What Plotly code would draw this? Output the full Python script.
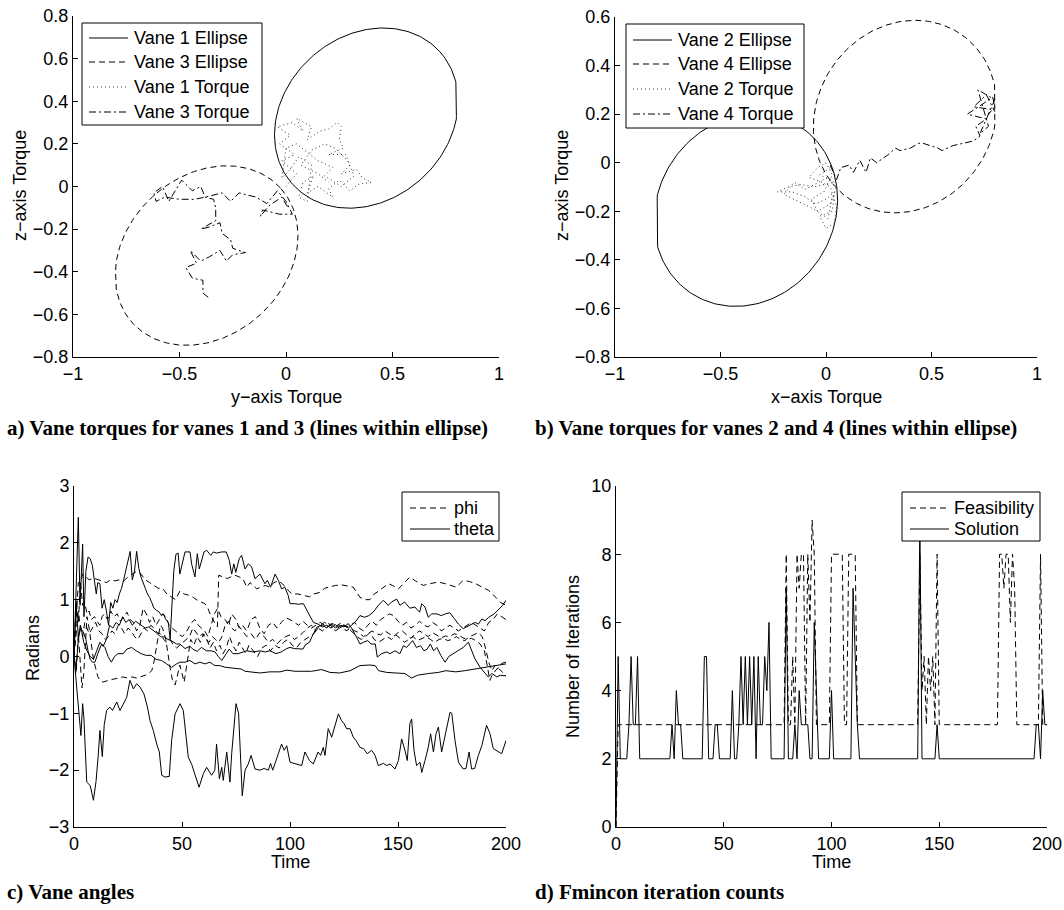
import numpy as np
import plotly.graph_objects as go

# ---------------------------------------------------------------- data
# Torque ellipses: centre (horizontal, z), semi-axes, tilt in degrees
ELLIPSE_V1 = dict(cx=0.377, cy=0.321, a=0.465, b=0.385, tilt=42.0)
ELLIPSE_V3 = dict(cx=-0.373, cy=-0.324, a=0.470, b=0.375, tilt=42.5)
ELLIPSE_V2 = dict(cx=-0.380, cy=-0.195, a=0.445, b=0.385, tilt=25.0)
ELLIPSE_V4 = dict(cx=0.375, cy=0.190, a=0.445, b=0.385, tilt=25.0)
TORQUE_LIMIT = 0.8

# Vane torque histories (horizontal torque, z torque)
v1_torque = [(0.0, 0.0), (0.05, 0.06), (-0.02, 0.12), (0.04, 0.15), (-0.03, 0.2), (0.02, 0.24),
             (-0.04, 0.28), (0.03, 0.3), (0.08, 0.26), (0.05, 0.32), (0.12, 0.28), (0.1, 0.22),
             (0.16, 0.26), (0.2, 0.27), (0.24, 0.3), (0.26, 0.28), (0.25, 0.22), (0.27, 0.18),
             (0.2, 0.15), (0.28, 0.15), (0.3, 0.1), (0.26, 0.06), (0.33, 0.08), (0.36, 0.04),
             (0.4, 0.02), (0.34, 0.01), (0.3, -0.02), (0.25, 0.03), (0.2, -0.01), (0.22, -0.05),
             (0.15, 0.0), (0.1, -0.03), (0.13, 0.05), (0.08, 0.02), (0.06, -0.05), (0.1, -0.07),
             (0.12, 0.1), (0.06, 0.14), (0.02, 0.08), (-0.02, 0.04), (0.0, 0.18), (0.05, 0.2),
             (0.15, 0.12), (0.22, 0.09), (0.18, 0.05), (0.26, 0.0), (0.32, 0.05), (0.29, 0.12),
             (0.23, 0.18), (0.18, 0.2), (0.12, 0.17), (0.07, 0.1), (0.15, 0.06), (0.2, 0.02)]
v3_torque = [(-0.365, -0.52), (-0.39, -0.5), (-0.39, -0.44), (-0.44, -0.43), (-0.47, -0.38),
             (-0.42, -0.36), (-0.45, -0.3), (-0.4, -0.35), (-0.36, -0.33), (-0.31, -0.3),
             (-0.28, -0.35), (-0.25, -0.32), (-0.19, -0.31), (-0.25, -0.29), (-0.26, -0.25),
             (-0.3, -0.22), (-0.31, -0.17), (-0.36, -0.19), (-0.4, -0.2), (-0.33, -0.16),
             (-0.33, -0.1), (-0.34, -0.06), (-0.38, -0.05), (-0.4, 0.0), (-0.44, -0.02),
             (-0.49, 0.03), (-0.55, -0.07), (-0.58, 0.0), (-0.62, -0.03), (-0.61, -0.07),
             (-0.57, -0.05), (-0.5, -0.06), (-0.43, -0.06), (-0.38, -0.05), (-0.3, -0.03),
             (-0.26, -0.07), (-0.22, -0.03), (-0.14, -0.05), (-0.09, -0.08), (-0.04, -0.02),
             (0.0, -0.07), (0.03, -0.13), (-0.03, -0.13), (-0.11, -0.11), (-0.12, -0.14),
             (-0.08, -0.09), (-0.02, -0.05), (0.01, -0.1)]
v2_torque = [(0.02, -0.02), (-0.03, -0.05), (0.04, -0.08), (-0.06, -0.1), (-0.12, -0.09),
             (-0.18, -0.1), (-0.23, -0.12), (-0.16, -0.12), (-0.1, -0.14), (-0.05, -0.17),
             (0.0, -0.15), (0.04, -0.12), (0.03, -0.2), (-0.03, -0.22), (0.0, -0.27),
             (0.04, -0.25), (0.05, -0.18), (0.02, -0.1), (-0.02, -0.08), (-0.08, -0.06),
             (-0.04, -0.02), (0.0, 0.0), (0.03, -0.05), (-0.01, -0.12), (-0.07, -0.15),
             (-0.04, -0.2), (0.02, -0.17), (0.05, -0.1), (0.01, -0.06), (-0.1, -0.11),
             (-0.15, -0.08), (-0.2, -0.13), (-0.13, -0.16), (-0.06, -0.19), (0.01, -0.23),
             (0.03, -0.14)]
v4_torque = [(0.02, -0.01), (0.05, -0.07), (0.07, -0.02), (0.11, -0.01), (0.13, -0.04),
             (0.16, 0.01), (0.19, -0.04), (0.21, 0.02), (0.24, 0.0), (0.29, 0.03), (0.33, 0.06),
             (0.35, 0.05), (0.4, 0.06), (0.44, 0.08), (0.46, 0.08), (0.5, 0.07), (0.53, 0.06),
             (0.55, 0.05), (0.6, 0.07), (0.65, 0.08), (0.7, 0.09), (0.73, 0.11), (0.71, 0.15),
             (0.76, 0.18), (0.67, 0.2), (0.74, 0.24), (0.79, 0.27), (0.8, 0.23), (0.77, 0.2),
             (0.8, 0.26), (0.72, 0.3), (0.77, 0.15), (0.73, 0.12), (0.78, 0.22), (0.7, 0.23),
             (0.76, 0.28), (0.8, 0.21)]

# Vane angles (time, radians)
theta_1 = [(0, 0), (1.2, -0.54), (2.5, -1.0), (3.2, -1.39), (4, -0.83), (4.6, -1.1), (5.9, -2.21),
           (7.5, -2.27), (9, -2.53), (10.2, -2.2), (11.2, -1.75), (12, -1.3), (13.1, -1.76),
           (14, -1.2), (15.1, -0.95), (16.6, -0.89), (17.8, -0.95), (19.8, -0.8), (21.3, -0.95),
           (22.8, -0.85), (24.4, -0.72), (25.9, -0.42), (27.5, -0.57), (29, -0.48), (30.6, -0.54),
           (32.4, -0.66), (34, -0.89), (35.2, -1.13), (36.7, -1.3), (38.3, -1.54), (39.5, -1.68),
           (40.6, -2.09), (42.1, -2.12), (44.1, -2.11), (45.2, -1.48), (46.8, -1.01), (49.1, -0.83),
           (50.6, -0.95), (51.3, -1.24), (52.9, -1.77), (54.5, -1.9), (55.9, -2.05), (57.9, -2.3),
           (59.9, -2.06), (61.4, -1.95), (63.7, -2.09), (65.2, -2.0), (66, -1.54), (67.3, -2.15),
           (68.4, -1.95), (69.1, -2.18), (70.7, -1.68), (72.2, -2.21), (73, -1.71), (75, -0.83),
           (76.2, -1.0), (77.9, -2.45), (79.2, -2.0), (80.7, -1.89), (82, -1.74), (83.8, -1.98),
           (86.1, -2.0), (88, -1.97), (90, -2.0), (91, -1.88), (92, -2.0), (94.6, -1.71),
           (96.1, -1.54), (97.3, -1.65), (98.5, -1.57), (100, -1.86), (103, -1.9), (105.4, -1.92),
           (106.9, -1.68), (109, -1.83), (110.8, -1.89), (113, -1.68), (114.2, -1.74), (115.4, -1.6),
           (116.2, -1.74), (117.7, -1.27), (119.3, -1.42), (120.8, -1.21), (122.4, -1.01),
           (123.9, -1.13), (125, -1.18), (126.2, -1.27), (127.8, -1.27), (129.3, -1.42),
           (130.6, -1.48), (132.4, -1.6), (134, -1.62), (135.8, -1.71), (137.8, -1.65),
           (139.4, -1.74), (140.9, -1.92), (143.2, -1.88), (144.8, -1.92), (146.3, -1.89),
           (148.6, -1.98), (150.2, -1.83), (151.7, -1.45), (153.2, -1.65), (154.3, -1.83),
           (155.5, -1.18), (156.3, -1.1), (157.4, -1.65), (158.6, -1.92), (160.2, -1.86),
           (161, -2.04), (162.5, -1.83), (164, -1.6), (165.1, -1.36), (166.4, -1.68),
           (167.6, -1.36), (168.7, -1.24), (170.2, -1.68), (172.5, -1.24), (174.1, -0.98),
           (174.9, -1.0), (176.4, -1.48), (178, -1.86), (180.2, -1.98), (181.5, -1.97),
           (182.9, -1.68), (184.1, -1.98), (185.5, -1.97), (187.2, -1.74), (188.8, -1.57),
           (191, -1.21), (192.6, -1.36), (194.1, -1.62), (196.5, -1.68), (198, -1.71), (200, -1.48)]
theta_2 = [(0, 0.0), (1, 1.2), (2, 2.45), (2.8, 0.9), (3.5, 1.4), (4, 1.98), (4.6, 0.7), (5.5, 1.5),
           (6.5, 1.75), (7.5, 1.72), (8.5, 1.6), (9.5, 1.3), (10.3, 1.1), (11, 1.3), (12, 1.28),
           (13, 0.85), (14, 1.0), (15, 0.8), (16, 0.55), (17, 0.95), (18, 0.85), (19, 1.0),
           (20, 0.95), (21, 1.1), (22, 1.2), (23, 1.35), (24, 1.5), (25, 1.7), (26, 1.85),
           (27, 1.35), (28, 1.5), (29, 1.85), (30, 1.55), (31, 1.4), (32, 1.28), (33, 1.2),
           (34, 1.1), (35, 1.04), (36, 0.95), (37, 0.85), (38.3, 0.81), (39.5, 0.78), (40.5, 0.72),
           (41.4, 0.75), (42.5, 0.65), (43.7, 0.6), (44.5, 0.3), (45.3, 0.9), (46.2, 1.5),
           (47.2, 1.8), (48.2, 1.82), (49, 1.45), (50, 1.6), (51.4, 1.84), (53.7, 1.84),
           (54.5, 1.62), (56, 1.4), (57.1, 1.81), (58, 1.54), (59, 1.66), (60.2, 1.84),
           (61.4, 1.87), (63.3, 1.78), (64.5, 1.84), (66, 1.82), (68.4, 1.84), (70.5, 1.84),
           (71.9, 1.69), (73, 1.45), (74, 1.63), (74.9, 1.48), (76.5, 1.72), (77.6, 1.78),
           (79.2, 1.54), (80.7, 1.63), (82.2, 1.58), (83.8, 1.37), (86.1, 1.45), (88.4, 1.28),
           (89.5, 1.34), (91, 1.22), (93.1, 1.45), (94.6, 1.34), (96.1, 1.19), (97.6, 1.22),
           (99.2, 1.07), (100, 0.93), (102, 0.93), (104, 0.92), (106.2, 0.93), (107.4, 0.84),
           (109.3, 0.72), (110.8, 0.6), (113, 0.57), (115, 0.52), (117, 0.55), (119, 0.5),
           (121, 0.56), (123, 0.5), (125, 0.55), (127, 0.5), (128.5, 0.55), (130.5, 0.62),
           (132.4, 0.72), (134.5, 0.69), (136.5, 0.72), (138.5, 0.78), (140.9, 0.9), (143.2, 0.99),
           (145.5, 0.9), (147, 0.96), (149.4, 1.01), (150.9, 0.9), (153, 0.96), (155.5, 0.85),
           (157.8, 0.87), (160, 0.78), (161, 0.93), (162.5, 0.87), (164, 0.69), (165.6, 0.75),
           (168, 0.75), (170, 0.72), (172, 0.75), (174, 0.77), (176, 0.67), (178, 0.57),
           (180.2, 0.49), (182.5, 0.54), (184, 0.57), (185.7, 0.6), (187.2, 0.57), (188.8, 0.66),
           (190.3, 0.63), (192, 0.69), (194.5, 0.75), (196.8, 0.84), (198.5, 0.9), (200, 0.99)]
theta_3 = [(0, 0), (1, 0.9), (2, 0.35), (3, 0.55), (4.5, 0.25), (6, 0.1), (7.5, 0.0), (9, -0.05),
           (10.5, 0.1), (12, 0.25), (13.5, 0.18), (15, 0.3), (16.5, 0.55), (18, 0.5), (19.5, 0.6),
           (21, 0.55), (22.5, 0.7), (24, 0.6), (25.5, 0.65), (27, 0.55), (28.5, 0.62), (30, 0.58),
           (31.5, 0.55), (33, 0.5), (34.5, 0.52), (36, 0.48), (38, 0.42), (40, 0.35), (42, 0.34),
           (43.5, 0.3), (45, 0.28), (47.5, 0.22), (49, 0.22), (51.4, 0.14), (53.7, 0.18),
           (55, 0.13), (57, 0.09), (59, 0.16), (61.3, 0.1), (63.5, 0.1), (65.3, 0.08), (66.8, 0.0),
           (68.4, -0.07), (70.5, 0.05), (71.9, 0.13), (73.6, 0.05), (76, 0.05), (78.4, 0.08),
           (80, 0.1), (83, 0.08), (86, 0.1), (88.5, 0.08), (90.7, 0.1), (93.5, 0.05), (96, 0.08),
           (98.5, 0.14), (100, 0.16), (102, 0.14), (104, 0.14), (106, 0.13), (107, 0.2),
           (109, 0.25), (110.8, 0.4), (112.5, 0.52), (115, 0.55), (117, 0.5), (119, 0.58),
           (121, 0.5), (123, 0.55), (125, 0.52), (127, 0.58), (128.5, 0.5), (130.8, 0.34),
           (132.4, 0.22), (134, 0.25), (136, 0.28), (137.5, 0.22), (139.5, 0.22), (140.4, -0.01),
           (142.4, 0.05), (144.8, 0.08), (146.3, 0.05), (148.6, 0.1), (150.9, 0.05), (152.5, 0.19),
           (154, 0.16), (156.8, 0.28), (158.5, 0.16), (160.5, 0.19), (162, 0.1), (163.5, 0.13),
           (165, 0.22), (166.5, 0.1), (168, 0.16), (169.8, 0.02), (171.8, -0.1), (173.5, -0.0),
           (175.8, 0.05), (178, 0.1), (180.2, 0.16), (182.6, 0.25), (184, 0.1), (185.6, -0.04),
           (188, -0.19), (190.3, -0.3), (191.8, -0.36), (193.5, -0.3), (195.8, -0.36),
           (197.3, -0.33), (200, -0.34)]
theta_4 = [(0, 0), (1, -0.2), (2, 0.3), (3, 0.5), (4.3, 0.43), (5.5, 0.3), (6.5, 0.1), (7.5, -0.05),
           (8.5, -0.1), (9.7, -0.1), (11, 0.05), (12.8, 0.22), (14.3, 0.16), (15.8, 0.0),
           (17.3, -0.1), (18.8, 0.0), (20.3, 0.05), (22.8, 0.05), (24.5, 0.13), (26.7, 0.16),
           (28.8, 0.1), (31.1, 0.05), (33.4, 0.02), (35.7, 0.02), (38, -0.05), (40.5, -0.07),
           (42.9, -0.13), (45.2, -0.19), (47.5, -0.13), (49, -0.1), (51.4, -0.1), (53.7, -0.07),
           (56, -0.13), (58.3, -0.1), (60.6, -0.13), (62.9, -0.1), (65.2, -0.16), (67.5, -0.16),
           (70, -0.19), (73.6, -0.2), (77.4, -0.22), (79.2, -0.26), (81.5, -0.27), (86, -0.29),
           (90.7, -0.27), (95.4, -0.27), (98.5, -0.24), (102.3, -0.26), (106, -0.26), (110, -0.26),
           (114.6, -0.23), (118.5, -0.28), (123, -0.29), (127.8, -0.25), (132.4, -0.16),
           (137, -0.15), (139.4, -0.16), (141, -0.25), (144.8, -0.28), (149.4, -0.29),
           (153.2, -0.3), (156.3, -0.38), (159, -0.33), (164, -0.3), (168.7, -0.28),
           (172.2, -0.25), (176.8, -0.27), (180.9, -0.25), (185.5, -0.22), (190.3, -0.2),
           (193.6, -0.17), (197, -0.15), (200, -0.13)]

phi_1 = [(0, 0), (1, 0.7), (2, 1.3), (3, 1.3), (4, 1.45), (5.5, 1.4), (7, 1.35), (9, 1.38), (11, 1.35),
         (13, 1.33), (15, 1.3), (17, 1.35), (19, 1.33), (21, 1.35), (23, 1.33), (25, 1.4), (27, 1.45),
         (29, 1.5), (31, 1.45), (33, 1.35), (35, 1.3), (37, 1.25), (39, 1.2), (41, 1.2), (43, 1.1),
         (45, 1.05), (47, 1.0), (49, 1.15), (51, 1.1), (53, 1.08), (55.2, 1.04), (57.5, 0.98),
         (60.6, 0.93), (62, 0.85), (63, 0.75), (65, 0.6), (66.4, 0.52), (67, 1.43), (69, 1.4),
         (71, 1.37), (72.5, 1.4), (74.5, 1.43), (76.5, 1.4), (78.2, 1.37), (80, 1.22), (81.5, 1.3),
         (83, 1.25), (84.6, 1.19), (86.5, 1.22), (88.5, 1.25), (90.7, 1.22), (92.5, 1.3),
         (94.6, 1.33), (96.5, 1.28), (98.5, 1.19), (100.8, 1.1), (103.7, 1.1), (106, 1.08),
         (109, 1.05), (111, 1.1), (114, 1.13), (116, 1.2), (118.5, 1.22), (121, 1.25), (124, 1.26),
         (127, 1.24), (129.3, 1.22), (132.4, 1.04), (135, 1.0), (137, 1.0), (139, 1.1), (141, 1.15),
         (143.2, 1.22), (145.5, 1.28), (147.5, 1.25), (150.2, 1.19), (153.2, 1.31), (155.6, 1.4),
         (158, 1.33), (161.7, 1.25), (164.5, 1.28), (168.7, 1.31), (172, 1.28), (174.5, 1.25),
         (177, 1.22), (180.2, 1.34), (183, 1.32), (186, 1.28), (189, 1.22), (192, 1.16),
         (195.3, 1.04), (197.5, 0.95), (200, 0.9)]
phi_2 = [(0, 0), (1, 1.0), (2, 0.6), (3, 1.3), (4, 0.9), (5, 0.95), (6, 0.75), (7, 0.8), (8, 0.65),
         (9.5, 0.7), (11, 0.6), (12, 0.55), (13, 0.7), (14, 0.75), (15.5, 0.65), (17, 0.8),
         (18.5, 0.7), (20, 0.75), (21.5, 0.62), (23, 0.7), (24.5, 0.78), (26, 0.65), (27.5, 0.6),
         (29, 0.45), (30.5, 0.55), (32, 0.85), (33.5, 0.75), (35, 0.6), (36.5, 0.7), (38, 0.55),
         (39.5, 0.65), (41, 0.75), (42.5, 0.7), (44, 0.55), (45.5, 0.5), (47, 0.45), (48.5, 0.4),
         (50, 0.35), (51.5, 0.4), (53, 0.5), (54.5, 0.6), (56, 0.65), (57.5, 0.55), (59, 0.5),
         (60.5, 0.45), (62, 0.35), (63.5, 0.55), (65, 0.75), (66.5, 0.85), (68, 0.7), (70, 0.65),
         (71.5, 0.55), (73, 0.75), (75, 0.65), (76.5, 0.5), (78, 0.55), (80, 0.45), (82, 0.65),
         (84, 0.7), (86, 0.5), (88, 0.4), (90, 0.55), (92, 0.6), (94, 0.5), (96, 0.6), (98, 0.68),
         (100, 0.65), (102, 0.6), (104, 0.55), (106, 0.62), (108, 0.55), (110, 0.5), (112, 0.55),
         (114, 0.6), (116, 0.55), (118, 0.58), (120, 0.5), (122, 0.55), (124, 0.6), (126, 0.52),
         (128, 0.55), (130, 0.6), (132, 0.5), (134, 0.45), (136, 0.55), (138, 0.62), (140, 0.55),
         (142, 0.65), (144, 0.7), (146, 0.75), (148, 0.72), (150, 0.62), (152, 0.55), (154, 0.6),
         (156, 0.5), (158, 0.55), (160, 0.62), (162, 0.55), (164, 0.52), (166, 0.6), (168, 0.55),
         (170, 0.45), (172, 0.5), (174, 0.55), (176, 0.5), (178, 0.45), (180, 0.5), (182, 0.55),
         (184, 0.6), (186, 0.55), (188, 0.5), (190, 0.45), (192, 0.6), (194, 0.65), (196, 0.75),
         (198, 0.7), (200, 0.65)]
phi_3 = [(0, 0), (1, 0.4), (2, 0.8), (3, 0.5), (4, 0.35), (5, 0.6), (6, 0.5), (7, 0.4), (8.5, 0.5),
         (10, 0.6), (11.5, 0.45), (13, 0.4), (14.5, 0.3), (16, 0.35), (17.5, 0.45), (19, 0.4),
         (20.5, 0.55), (22, 0.5), (23.5, 0.4), (25, 0.5), (26.5, 0.45), (28, 0.35), (29.5, 0.3),
         (31, 0.4), (32.5, 0.5), (34, 0.45), (35.5, 0.55), (37, 0.5), (38.5, 0.42), (40, 0.4),
         (41.5, 0.3), (43, 0.25), (44.5, 0.3), (46, 0.2), (47.5, 0.15), (49, 0.2), (50.5, 0.25),
         (52, 0.3), (53.5, 0.35), (55, 0.5), (56.5, 0.42), (58, 0.35), (59.5, 0.4), (61, 0.3),
         (62.5, 0.25), (64, 0.35), (65.5, 0.3), (67, 0.25), (68.5, 0.35), (70, 0.55), (71.5, 0.62),
         (73, 0.5), (74.5, 0.45), (76, 0.55), (78, 0.45), (80, 0.35), (82, 0.4), (84, 0.3),
         (86, 0.42), (88, 0.35), (90, 0.25), (92, 0.3), (94, 0.22), (96, 0.3), (98, 0.35),
         (100, 0.38), (102, 0.3), (104, 0.35), (106, 0.42), (108, 0.5), (110, 0.55), (112, 0.45),
         (114, 0.55), (116, 0.6), (118, 0.55), (120, 0.58), (122, 0.5), (124, 0.55), (126, 0.45),
         (128, 0.5), (130, 0.45), (132, 0.42), (134, 0.35), (136, 0.4), (138, 0.45), (140, 0.4),
         (142, 0.38), (144, 0.45), (146, 0.4), (148, 0.35), (150, 0.42), (152, 0.45), (154, 0.38),
         (156, 0.32), (158, 0.4), (160, 0.45), (162, 0.4), (164, 0.35), (166, 0.42), (168, 0.38),
         (170, 0.33), (172, 0.36), (174, 0.35), (176, 0.4), (178, 0.38), (180, 0.33), (182, 0.3),
         (184, 0.32), (186, 0.28), (188, 0.22), (190, 0.1), (191.5, -0.2), (192.5, -0.42),
         (194, -0.3), (196, -0.2), (198, -0.12), (200, -0.1)]
phi_4 = [(0, 0), (1, -0.3), (2, 0.4), (3, -0.3), (3.7, -0.55), (4.5, -0.3), (5.2, 0.2), (6, 0.7),
         (7, 0.5), (8, 0.2), (9, -0.05), (10, -0.2), (11, -0.35), (12, -0.42), (13.5, -0.45),
         (15.9, -0.42), (18, -0.4), (20.4, -0.39), (22.5, -0.36), (25, -0.38), (27, -0.36),
         (29, -0.38), (31, -0.36), (33, -0.33), (34.5, -0.3), (36, -0.25), (37, -0.1), (38, 0.15),
         (39, 0.35), (40, 0.55), (41, 0.5), (42.5, 0.3), (43.5, 0.0), (44.5, -0.2), (45.5, -0.4),
         (46.8, -0.5), (47.8, -0.35), (49, -0.15), (50, -0.3), (51, -0.45), (52, -0.2), (53, 0.05),
         (54, 0.3), (55.5, 0.2), (57, 0.35), (58.5, 0.25), (60, 0.4), (61.5, 0.3), (63, 0.15),
         (64.5, 0.25), (66, 0.1), (67.5, 0.2), (69, 0.05), (70.5, 0.15), (72, 0.35), (73.5, 0.2),
         (75, 0.1), (76.5, 0.25), (78, 0.15), (79.5, 0.05), (81, 0.2), (83, 0.1), (85, 0.0),
         (87, 0.15), (89, 0.2), (91, 0.1), (93, 0.2), (95, 0.15), (97, 0.25), (99, 0.3), (101, 0.2),
         (103, 0.15), (105, 0.25), (107, 0.3), (109, 0.35), (111, 0.4), (113, 0.5), (115, 0.45),
         (117, 0.52), (119, 0.55), (121, 0.45), (123, 0.5), (125, 0.55), (127, 0.5), (129, 0.42),
         (131, 0.35), (133, 0.3), (135, 0.35), (137, 0.42), (139, 0.3), (141, 0.25), (143, 0.3),
         (145, 0.35), (147, 0.3), (149, 0.38), (151, 0.32), (153, 0.25), (155, 0.3), (157, 0.35),
         (159, 0.28), (161, 0.32), (163, 0.35), (165, 0.3), (167, 0.25), (169, 0.3), (171, 0.32),
         (173, 0.28), (175, 0.3), (177, 0.35), (179, 0.3), (181, 0.28), (183, 0.35), (185, 0.38),
         (187, 0.42), (189, 0.35), (190.5, 0.15), (192, -0.1), (193.5, -0.25), (195, -0.15),
         (197, -0.22), (199, -0.3), (200, -0.35)]

# fmincon iteration counts per time step 0..200
feasibility_iters = [
    0, 3, 3, 3, 3, 3, 3, 3, 3, 3,   3, 3, 3, 3, 3, 3, 3, 3, 3, 3,
    3, 3, 3, 3, 3, 3, 3, 3, 3, 3,   3, 3, 3, 3, 3, 3, 3, 3, 3, 3,
    3, 3, 3, 3, 3, 3, 3, 3, 3, 3,   3, 3, 3, 3, 3, 3, 3, 3, 3, 3,
    3, 3, 3, 3, 3, 3, 3, 3, 3, 3,   3, 3, 3, 3, 3, 3, 3, 3, 3, 8,
    3, 3, 5, 3, 8, 7, 8, 8, 3, 8,   6, 9, 8, 3, 3, 3, 3, 3, 3, 3,
    8, 8, 8, 8, 8, 8, 3, 3, 8, 8,   8, 8, 3, 3, 3, 3, 3, 3, 3, 3,
    3, 3, 3, 3, 3, 3, 3, 3, 3, 3,   3, 3, 3, 3, 3, 3, 3, 3, 3, 3,
    3, 8, 4, 5, 3, 5, 4, 5, 3, 8,   3, 3, 3, 3, 3, 3, 3, 3, 3, 3,
    3, 3, 3, 3, 3, 3, 3, 3, 3, 3,   3, 3, 3, 3, 3, 3, 3, 3, 8, 8,
    7, 8, 8, 6, 8, 7, 3, 3, 3, 3,   3, 3, 3, 3, 3, 3, 3, 8, 3, 3,
    3]
solution_iters = [
    0, 5, 2, 2, 2, 2, 3, 5, 3, 3,   5, 2, 2, 2, 2, 2, 2, 2, 2, 2,
    2, 2, 2, 2, 2, 2, 3, 2, 4, 3,   3, 2, 2, 2, 2, 2, 2, 2, 2, 2,
    2, 5, 5, 2, 2, 2, 3, 3, 2, 2,   2, 2, 2, 2, 4, 2, 2, 3, 5, 3,
    5, 3, 5, 3, 5, 2, 5, 3, 3, 5,   4, 6, 2, 2, 2, 2, 2, 2, 2, 7,
    2, 2, 2, 3, 2, 4, 3, 3, 3, 3,   2, 2, 6, 4, 2, 2, 2, 2, 2, 2,
    4, 2, 2, 2, 2, 2, 2, 2, 2, 2,   7, 5, 3, 2, 2, 2, 2, 2, 2, 2,
    2, 2, 2, 2, 2, 2, 2, 2, 2, 2,   2, 2, 2, 2, 2, 2, 2, 2, 2, 2,
    2, 9, 2, 2, 2, 2, 2, 2, 2, 3,   2, 2, 2, 2, 2, 2, 2, 2, 2, 2,
    2, 2, 2, 2, 2, 2, 2, 2, 2, 2,   2, 2, 2, 2, 2, 2, 2, 2, 2, 2,
    2, 2, 2, 2, 2, 2, 2, 2, 2, 2,   2, 2, 2, 2, 2, 3, 3, 2, 4, 3,
    3]
time_steps = list(range(len(solution_iters)))

# ---------------------------------------------------------------- styling
FONT = dict(family="Liberation Sans, Arial, Helvetica", size=18, color="black")
CAPTION_FONT = dict(family="Liberation Serif, Times New Roman", size=21, color="black", weight="bold")
SOLID, DASHED, DOTTED, DASHDOT = "solid", "6px,4px", "1px,3px", "7px,3px,2px,3px"
DOT_COLOR = "#333333"
W, H = 1064, 910


def ellipse_outline(cx, cy, a, b, tilt, n=241):
    s = np.linspace(0.0, 2.0 * np.pi, n)
    c, sn = np.cos(np.radians(tilt)), np.sin(np.radians(tilt))
    x = cx + a * np.cos(s) * c - b * np.sin(s) * sn
    y = cy + a * np.cos(s) * sn + b * np.sin(s) * c
    return np.clip(x, -TORQUE_LIMIT, TORQUE_LIMIT), y


def unzip(pairs):
    return [p[0] for p in pairs], [p[1] for p in pairs]


def line(x, y, dash, name, xa, ya, color="black"):
    return go.Scatter(x=x, y=y, mode="lines", name=name, xaxis=xa, yaxis=ya,
                      line=dict(color=color, width=1, dash=dash),
                      showlegend=False, hoverinfo="skip")


fig = go.Figure()

# a) vanes 1 and 3
ex, ey = ellipse_outline(**ELLIPSE_V1)
fig.add_trace(line(ex, ey, SOLID, "Vane 1 Ellipse", "x", "y"))
ex, ey = ellipse_outline(**ELLIPSE_V3)
fig.add_trace(line(ex, ey, DASHED, "Vane 3 Ellipse", "x", "y"))
tx, ty = unzip(v1_torque)
fig.add_trace(line(tx, ty, DOTTED, "Vane 1 Torque", "x", "y", color=DOT_COLOR))
tx, ty = unzip(v3_torque)
fig.add_trace(line(tx, ty, DASHDOT, "Vane 3 Torque", "x", "y"))

# b) vanes 2 and 4
ex, ey = ellipse_outline(**ELLIPSE_V2)
fig.add_trace(line(ex, ey, SOLID, "Vane 2 Ellipse", "x2", "y2"))
ex, ey = ellipse_outline(**ELLIPSE_V4)
fig.add_trace(line(ex, ey, DASHED, "Vane 4 Ellipse", "x2", "y2"))
tx, ty = unzip(v2_torque)
fig.add_trace(line(tx, ty, DOTTED, "Vane 2 Torque", "x2", "y2", color=DOT_COLOR))
tx, ty = unzip(v4_torque)
fig.add_trace(line(tx, ty, DASHDOT, "Vane 4 Torque", "x2", "y2"))

# c) vane angles
for series in [phi_1, phi_2, phi_3, phi_4]:
    t, v = unzip(series)
    fig.add_trace(line(t, v, DASHED, "phi", "x3", "y3"))
for series in [theta_1, theta_2, theta_3, theta_4]:
    t, v = unzip(series)
    fig.add_trace(line(t, v, SOLID, "theta", "x3", "y3"))

# d) iteration counts
fig.add_trace(line(time_steps, feasibility_iters, DASHED, "Feasibility", "x4", "y4"))
fig.add_trace(line(time_steps, solution_iters, SOLID, "Solution", "x4", "y4"))


def px_x(a, b):
    return [a / W, b / W]


def px_y(top, bottom):
    return [1 - bottom / H, 1 - top / H]


def axis(domain, rng, dtick, anchor):
    return dict(domain=domain, range=rng, dtick=dtick, tick0=0, anchor=anchor,
                showline=True, linecolor="black", linewidth=1, mirror=False,
                ticks="inside", ticklen=5, tickwidth=1, tickcolor="black",
                showgrid=False, zeroline=False, tickfont=FONT, automargin=False)


fig.update_layout(
    width=W, height=H, margin=dict(l=0, r=0, t=0, b=0),
    paper_bgcolor="white", plot_bgcolor="white", showlegend=False,
    xaxis=axis(px_x(73, 499), [-1, 1], 0.5, "y"),
    yaxis=axis(px_y(16, 357), [-0.8, 0.8], 0.2, "x"),
    xaxis2=axis(px_x(615, 1037), [-1, 1], 0.5, "y2"),
    yaxis2=axis(px_y(17, 357), [-0.8, 0.6], 0.2, "x2"),
    xaxis3=axis(px_x(74, 506), [0, 200], 50, "y3"),
    yaxis3=axis(px_y(486, 827), [-3, 3], 1, "x3"),
    xaxis4=axis(px_x(616, 1047), [0, 200], 50, "y4"),
    yaxis4=axis(px_y(486, 827), [0, 10], 2, "x4"),
)

shapes, annotations = [], []


def text(label, x, y, font=FONT, xanchor="center", angle=0):
    annotations.append(dict(text=label, x=x / W, y=1 - y / H, xref="paper", yref="paper",
                            xanchor=xanchor, yanchor="middle", showarrow=False,
                            font=font, textangle=angle))


# axis titles
text("y\u2212axis Torque", 286, 397)
text("z\u2212axis Torque", 20, 186, angle=-90)
text("x\u2212axis Torque", 826, 397)
text("z\u2212axis Torque", 562, 186, angle=-90)
text("Time", 290, 862)
text("Radians", 33, 648, angle=-90)
text("Time", 831, 862)
text("Number of Iterations", 573, 657, angle=-90)


# legend boxes: (box left, top, right, bottom), sample start/end, text x, row centres
def legend(box, sample, text_x, rows, entries):
    x0, y0, x1, y1 = box
    shapes.append(dict(type="rect", xref="paper", yref="paper",
                       x0=x0 / W, x1=x1 / W, y0=1 - y1 / H, y1=1 - y0 / H,
                       line=dict(color="black", width=1), fillcolor="white", layer="above"))
    for (label, dash, color), yc in zip(entries, rows):
        shapes.append(dict(type="line", xref="paper", yref="paper",
                           x0=sample[0] / W, x1=sample[1] / W, y0=1 - yc / H, y1=1 - yc / H,
                           line=dict(color=color, width=1, dash=dash), layer="above"))
        text(label, text_x, yc, xanchor="left")


legend((82, 23, 262, 125), (89, 128), 132, [38, 62, 87, 112],
       [("Vane 1 Ellipse", SOLID, "black"), ("Vane 3 Ellipse", DASHED, "black"),
        ("Vane 1 Torque", DOTTED, DOT_COLOR), ("Vane 3 Torque", DASHDOT, "black")])
legend((626, 24, 804, 128), (633, 672), 676, [40, 64, 89, 114],
       [("Vane 2 Ellipse", SOLID, "black"), ("Vane 4 Ellipse", DASHED, "black"),
        ("Vane 2 Torque", DOTTED, DOT_COLOR), ("Vane 4 Torque", DASHDOT, "black")])
legend((402, 492, 499, 541), (410, 450), 452, [508, 529],
       [("phi", DASHED, "black"), ("theta", SOLID, "black")])
legend((902, 492, 1040, 541), (910, 949), 952, [508, 529],
       [("Feasibility", DASHED, "black"), ("Solution", SOLID, "black")])

# panel captions
for label, x, y in [
    ("a) Vane torques for vanes 1 and 3 (lines within ellipse)", 5, 428),
    ("b) Vane torques for vanes 2 and 4 (lines within ellipse)", 533, 428),
    ("c) Vane angles", 5, 892),
    ("d) Fmincon iteration counts", 533, 892),
]:
    text(label, x, y, font=CAPTION_FONT, xanchor="left")

fig.update_layout(shapes=shapes, annotations=annotations)
fig.write_html("out.html")
